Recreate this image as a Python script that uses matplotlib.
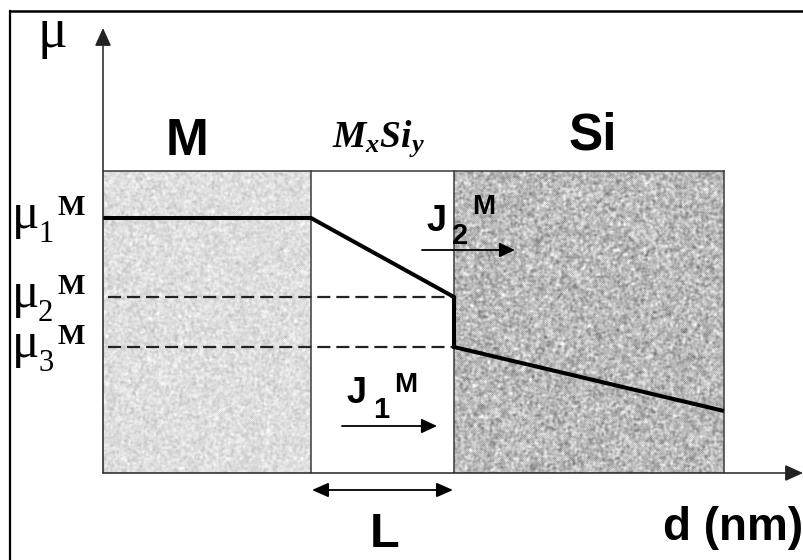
import numpy as np
import matplotlib.pyplot as plt
from matplotlib.lines import Line2D

plt.rcParams['lines.scale_dashes'] = False
plt.rcParams['mathtext.fontset'] = 'custom'
plt.rcParams['mathtext.it'] = 'Liberation Serif:italic:bold'
plt.rcParams['mathtext.rm'] = 'Liberation Serif:bold'

# layer boundaries along d and height of the layer box
edges = [0.0, 2.08, 3.51, 6.21]
box_top = 3.02

# chemical potential levels mu_1..mu_3
mu_levels = [2.55, 1.76, 1.26]
mu_index = ['1', '2', '3']

# potential profile across M / MxSiy / Si
prof_d = [0.0, 2.08, 3.51, 3.51, 6.21]
prof_mu = [2.55, 2.55, 1.76, 1.26, 0.62]

d_max = 7.0
mu_max = 4.45

sans = 'Liberation Sans'
serif = 'Liberation Serif'


def speckle(h, w, base, spread, seed):
    # grainy grey texture for the layers
    rng = np.random.default_rng(seed)
    n = rng.normal(size=(h, w))
    for _ in range(2):
        n = (n + np.roll(n, 1, 0) + np.roll(n, -1, 0)
             + np.roll(n, 1, 1) + np.roll(n, -1, 1)) / 5
    n /= n.std()
    return np.clip(base + spread * n, 0, 1)


fig = plt.figure(figsize=(8.04, 5.6), dpi=100)
ax = fig.add_axes([103 / 804, 87 / 560, 700 / 804, 445 / 560])
ax.set_xlim(0, d_max)
ax.set_ylim(0, mu_max)
ax.axis('off')

# frame lines (top and left)
fig.add_artist(Line2D([10 / 804, 1], [1 - 11 / 560] * 2, color='black', lw=1.8))
fig.add_artist(Line2D([10 / 804] * 2, [0, 1 - 11 / 560], color='black', lw=1.6))

# textured metal and silicon layers
ax.imshow(speckle(302, 208, 0.87, 0.035, 1), cmap='gray', vmin=0, vmax=1,
          extent=(edges[0], edges[1], 0, box_top), aspect='auto',
          interpolation='bilinear', zorder=0)
ax.imshow(speckle(302, 270, 0.73, 0.075, 2), cmap='gray', vmin=0, vmax=1,
          extent=(edges[2], edges[3], 0, box_top), aspect='auto',
          interpolation='bilinear', zorder=0)

# box outline
ax.plot([edges[0], edges[-1]], [box_top, box_top], color='#3a3a3a', lw=1.1)
for e in edges[1:]:
    ax.plot([e, e], [0, box_top], color='#3a3a3a', lw=1.1)

# dashed reference levels
for lev in mu_levels[1:]:
    ax.plot([0.05, edges[2]], [lev, lev], color='#222222', lw=1.6,
            dashes=(9.4, 4.3))

# profile
ax.plot(prof_d, prof_mu, color='black', lw=2.9, solid_joinstyle='miter',
        solid_capstyle='butt', zorder=3)

# axes arrows
axis_style = dict(arrowstyle='-|>,head_length=0.55,head_width=0.25',
                  mutation_scale=20, lw=1.1, color='#222222',
                  shrinkA=0, shrinkB=0)
ax.annotate('', xy=(d_max, 0), xytext=(0, 0), annotation_clip=False,
            arrowprops=axis_style)
ax.annotate('', xy=(0, mu_max), xytext=(0, 0), annotation_clip=False,
            arrowprops=axis_style)

# flux arrows
flux_style = dict(arrowstyle='-|>,head_length=0.47,head_width=0.22',
                  mutation_scale=20, lw=1.3, color='black', shrinkA=0, shrinkB=0)
ax.annotate('', xy=(4.12, 2.23), xytext=(3.19, 2.23), arrowprops=flux_style)
ax.annotate('', xy=(3.34, 0.47), xytext=(2.39, 0.47), arrowprops=flux_style)

# thickness L of the silicide
ax.annotate('', xy=(edges[2] - 0.01, -0.17), xytext=(edges[1] + 0.01, -0.17),
            annotation_clip=False,
            arrowprops=dict(arrowstyle='<|-|>,head_length=0.5,head_width=0.22',
                            mutation_scale=20, lw=1.3, color='black',
                            shrinkA=0, shrinkB=0))

# layer names
ax.text(0.84, 3.18, 'M', family=sans, weight='bold', fontsize=37,
        ha='center', va='baseline')
ax.text(4.90, 3.23, 'Si', family=sans, weight='bold', fontsize=37,
        ha='center', va='baseline')
ax.text(2.75, 3.26, r'$M_xSi_y$', fontsize=27, ha='center', va='baseline')

# mu labels
ax.text(-0.51, 4.26, 'μ', family=serif, fontsize=40, ha='center', va='baseline')
for lev, idx in zip(mu_levels, mu_index):
    ax.text(-0.91, lev - 0.10, 'μ', family=serif, fontsize=37, va='baseline')
    ax.text(-0.65, lev - 0.24, idx, family=serif, fontsize=22, va='baseline')
    ax.text(-0.46, lev + 0.03, 'M', family=serif, weight='bold', fontsize=21,
            va='baseline')

# flux labels
ax.text(3.24, 2.42, 'J', family=sans, weight='bold', fontsize=26, va='baseline')
ax.text(3.49, 2.29, '2', family=sans, weight='bold', fontsize=21, va='baseline')
ax.text(3.69, 2.59, 'M', family=sans, weight='bold', fontsize=20, va='baseline')
ax.text(2.44, 0.70, 'J', family=sans, weight='bold', fontsize=26, va='baseline')
ax.text(2.70, 0.55, '1', family=sans, weight='bold', fontsize=21, va='baseline')
ax.text(2.91, 0.81, 'M', family=sans, weight='bold', fontsize=20, va='baseline')

ax.text(2.82, -0.74, 'L', family=sans, weight='bold', fontsize=35,
        ha='center', va='baseline')
ax.text(5.60, -0.67, 'd (nm)', family=sans, weight='bold', fontsize=33,
        va='baseline')

fig.savefig('out.png', dpi=100)
